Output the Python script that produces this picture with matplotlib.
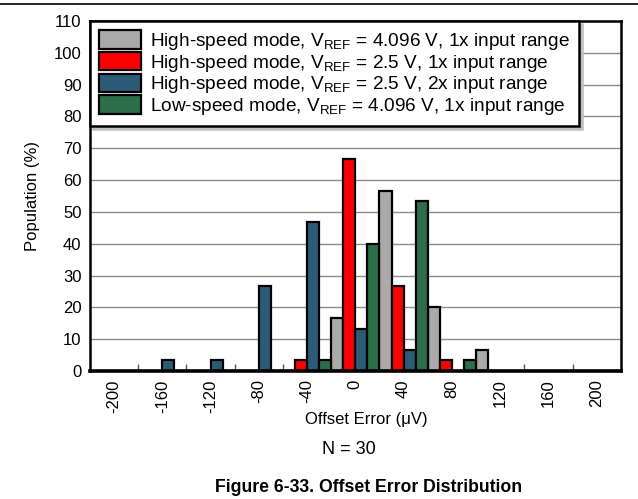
import matplotlib

matplotlib.use("Agg")
import matplotlib.pyplot as plt
import numpy as np

plt.rcParams["font.family"] = ["Liberation Sans", "DejaVu Sans"]
plt.rcParams["mathtext.default"] = "regular"

# Offset error bins (uV) and population (%) per configuration, N = 30
bins = ["-200", "-160", "-120", "-80", "-40", "0", "40", "80", "120", "160", "200"]
hs_4096_1x = [0, 0, 0, 0, 0, 16.67, 56.67, 20.0, 6.67, 0, 0]
hs_25_1x = [0, 0, 0, 0, 3.33, 66.67, 26.67, 3.33, 0, 0, 0]
hs_25_2x = [0, 3.33, 3.33, 26.67, 46.67, 13.33, 6.67, 0, 0, 0, 0]
ls_4096_1x = [0, 0, 0, 0, 3.33, 40.0, 53.33, 3.33, 0, 0, 0]

labels = [
    r"High-speed mode, V$_{REF}$ = 4.096 V, 1x input range",
    r"High-speed mode, V$_{REF}$ = 2.5 V, 1x input range",
    r"High-speed mode, V$_{REF}$ = 2.5 V, 2x input range",
    r"Low-speed mode, V$_{REF}$ = 4.096 V, 1x input range",
]
colors = ["#AAAAAA", "#FF0000", "#2A5C77", "#2A6E4A"]
series = [hs_4096_1x, hs_25_1x, hs_25_2x, ls_4096_1x]

fig = plt.figure(figsize=(6.38, 4.99), dpi=100)
ax = fig.add_axes([0.141, 0.2565, 0.832, 0.7015])

x = np.arange(len(bins))
w = 0.25
for i, (vals, c, lab) in enumerate(zip(series, colors, labels)):
    ax.bar(x + (i - 1.5) * w, vals, width=w, color=c, edgecolor="black",
           linewidth=1.6, label=lab, zorder=3)

ax.set_xlim(-0.5, len(bins) - 0.5)
ax.set_ylim(0, 110)
ax.set_yticks(np.arange(0, 111, 10))
ax.yaxis.grid(True, color="#8A8A8A", linewidth=1.0, zorder=0)
ax.set_xticks(x)
ax.set_xticklabels(bins, rotation=90, fontsize=12)
ax.set_xticks(x[:-1] + 0.5, minor=True)
ax.tick_params(axis="x", which="major", length=0, pad=6)
ax.tick_params(axis="x", which="minor", direction="in", length=5, width=1,
               color="#555555")
ax.tick_params(axis="y", length=0, labelsize=12, pad=6)
for s in ["top", "left", "right"]:
    ax.spines[s].set_linewidth(1.8)
ax.spines["bottom"].set_linewidth(2.6)
ax.spines["bottom"].set_zorder(4)

ax.set_ylabel("Population (%)", fontsize=12, labelpad=10)
ax.set_xlabel("Offset Error (\u03bcV)", fontsize=12)
ax.xaxis.set_label_coords((366 - 90) / 531, -0.117)

leg = ax.legend(loc="upper left", bbox_to_anchor=(0, 1), fontsize=13.7,
                handlelength=2.2, handleheight=1.1, labelspacing=0.0,
                handletextpad=0.45, borderpad=0.5, borderaxespad=0,
                fancybox=False, framealpha=1, edgecolor="black",
                shadow={"color": "0.75", "alpha": 1})
leg.get_frame().set_linewidth(1.8)
leg.set_zorder(5)

fig.text(349 / 638, 1 - 449 / 499, "N = 30", ha="center",
         va="center", fontsize=13)
fig.text(369 / 638, 1 - 487 / 499,
         "Figure 6-33. Offset Error Distribution", ha="center", va="center",
         fontsize=12.7, fontweight="bold")
fig.add_artist(plt.Line2D([0, 1], [1 - 4 / 499, 1 - 4 / 499], color="black",
                          linewidth=1.2, transform=fig.transFigure))

fig.savefig("out.png", dpi=100)
